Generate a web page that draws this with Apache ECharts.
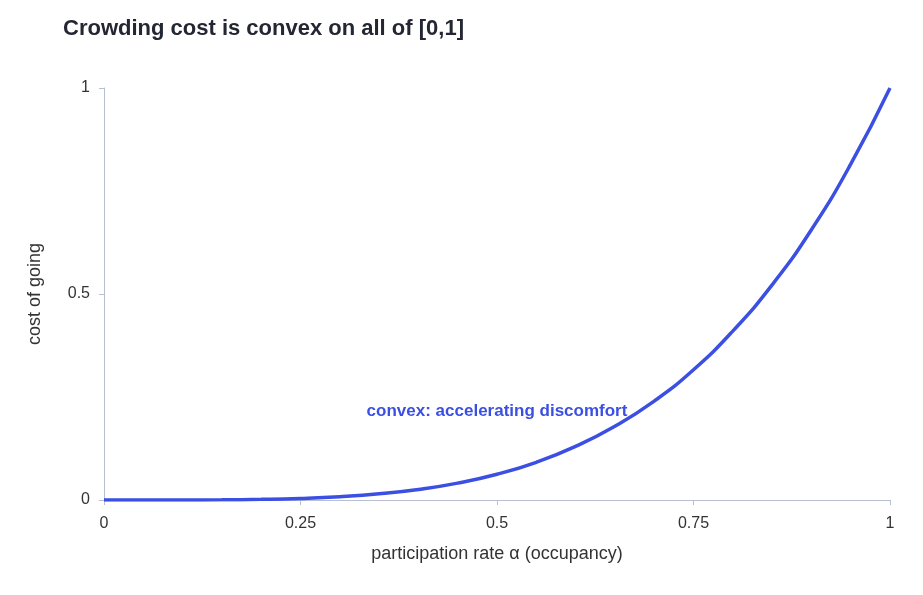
<!DOCTYPE html>
<html><head><meta charset="utf-8">
<script src="https://cdn.jsdelivr.net/npm/echarts@6/dist/echarts.min.js"></script>
<style>html,body{margin:0;padding:0;background:#fff}#c{width:923px;height:595px}</style>
</head><body><div id="c"></div>
<script>
const alphaValues = [0,0.05,0.1,0.15,0.2,0.25,0.3,0.35,0.4,0.45,0.5,0.55,0.6,0.65,0.7,0.75,0.8,0.85,0.9,0.95,1];
const costValues = [0,0,0.0001,0.0005,0.0016,0.0039,0.0081,0.015,0.0256,0.041,0.0625,0.0915,0.13,0.179,0.24,0.316,0.41,0.522,0.656,0.815,1];
const annotationText = 'convex: accelerating discomfort';
const annotationAt = [0.5, 0.215];
const font = '"Liberation Sans", Arial, Helvetica, sans-serif';
const chart = echarts.init(document.getElementById('c'));
chart.setOption({
  animation: false,
  title: { text: 'Crowding cost is convex on all of [0,1]', left: 58, top: 13,
    textStyle: { fontFamily: font, fontSize: 22, fontWeight: 'bold', color: '#222733' } },
  grid: { left: 104, right: 33, top: 88, bottom: 95 },
  xAxis: { type: 'value', min: 0, max: 1, interval: 0.25,
    name: 'participation rate α (occupancy)', nameLocation: 'middle', nameGap: 45,
    nameTextStyle: { fontFamily: font, fontSize: 18, color: '#333' },
    axisLine: { show: true, lineStyle: { color: '#b8bfd0' } },
    axisTick: { show: true, lineStyle: { color: '#b8bfd0' } },
    axisLabel: { fontFamily: font, fontSize: 16, color: '#333', margin: 16 },
    splitLine: { show: false } },
  yAxis: { type: 'value', min: 0, max: 1, interval: 0.5,
    name: 'cost of going', nameLocation: 'middle', nameGap: 60,
    nameTextStyle: { fontFamily: font, fontSize: 18, color: '#333' },
    axisLine: { show: true, lineStyle: { color: '#b8bfd0' } },
    axisTick: { show: true, lineStyle: { color: '#b8bfd0' } },
    axisLabel: { fontFamily: font, fontSize: 16, color: '#333', margin: 14 },
    splitLine: { show: false } },
  series: [{
    type: 'line', smooth: true, symbol: 'none',
    data: alphaValues.map((a, i) => [a, costValues[i]]),
    lineStyle: { color: '#3b4fe2', width: 3.5 },
    markPoint: { symbol: 'circle', symbolSize: 0, silent: true,
      data: [{ coord: annotationAt, label: { show: true, formatter: annotationText, position: 'inside',
        fontFamily: font, fontSize: 17, fontWeight: 'bold', color: '#3b4fe2' } }] }
  }]
});
</script></body></html>
